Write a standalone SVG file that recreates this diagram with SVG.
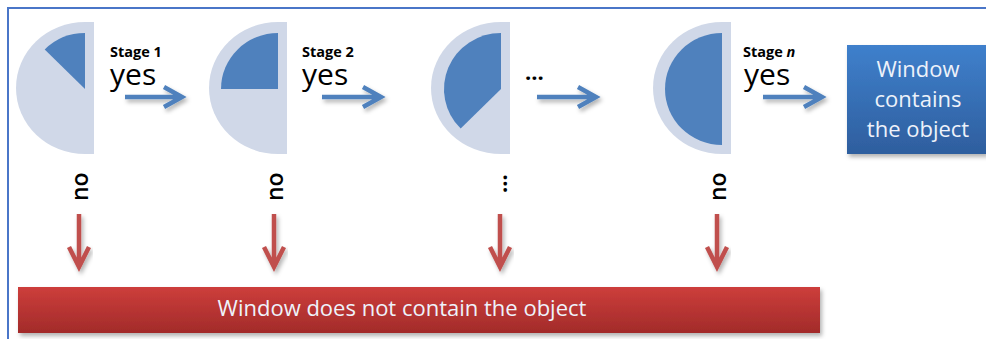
<svg xmlns="http://www.w3.org/2000/svg" width="986" height="339" viewBox="0 0 986 339">
<defs>
<filter id="sh" x="-20%" y="-40%" width="140%" height="180%"><feDropShadow dx="2" dy="3" stdDeviation="2" flood-color="#000" flood-opacity="0.3"/></filter>
<linearGradient id="gb" x1="0" y1="0" x2="0" y2="1"><stop offset="0" stop-color="#3F80CC"/><stop offset="1" stop-color="#2E5E9E"/></linearGradient>
<linearGradient id="gr" x1="0" y1="0" x2="0" y2="1"><stop offset="0" stop-color="#CD3E3B"/><stop offset="1" stop-color="#A22B2A"/></linearGradient>
<style>
.outer{fill:#D0D8E8}
.inner{fill:#4F81BD}
.stg{font-family:"Open Sans","Liberation Sans",sans-serif;font-weight:bold;font-size:14.5px;fill:#000}
.yes{font-family:"Open Sans","Liberation Sans",sans-serif;font-size:30px;fill:#000}
.no{font-family:"Open Sans","Liberation Sans",sans-serif;font-weight:600;font-size:23px;fill:#000}
.dots{font-family:"Open Sans","Liberation Sans",sans-serif;font-weight:bold;font-size:22px;fill:#000}
.wt{font-family:"Open Sans","Liberation Sans",sans-serif;fill:#EEF2FA;text-anchor:middle}
.ba{fill:none;stroke:#4F81BD;stroke-width:4.5;filter:url(#sh)}
.ra{fill:none;stroke:#C0504D;stroke-width:4.5;filter:url(#sh)}
</style>
</defs>
<g id="frame" fill="none" stroke="#4A76C8" stroke-width="2">
<path d="M8,339 V8 H986"/>
</g>
<g id="stage1">
<path class="outer" d="M94,22 H85 A69,66 0 0 0 85,154 H94 Z"/>
<path class="inner" d="M85,89 V33 A57,56 0 0 0 44.7,49.4 Z"/>
</g>
<g id="stage2">
<path class="outer" d="M287,22 H278 A69,66 0 0 0 278,154 H287 Z"/>
<path class="inner" d="M278,89 V33 A57,56 0 0 0 221,89 Z"/>
</g>
<g id="stage3">
<path class="outer" d="M510,22 H501 A70,66 0 0 0 501,154 H510 Z"/>
<path class="inner" d="M501,89 V33 A57,56 0 0 0 460.7,128.6 Z"/>
</g>
<g id="stageN">
<path class="outer" d="M731,22 H722 A69,66 0 0 0 722,154 H731 Z"/>
<path class="inner" d="M722,89 V33 A57,56 0 0 0 722,145 Z"/>
</g>
<g id="accept">
<rect x="847" y="45" width="140" height="109" fill="url(#gb)" filter="url(#sh)"/>
<text class="wt" font-size="22" x="918" y="77">Window</text>
<text class="wt" font-size="22" x="918" y="107">contains</text>
<text class="wt" font-size="22" x="918" y="137">the object</text>
</g>
<g id="reject">
<rect x="18" y="287" width="802" height="46" fill="url(#gr)" filter="url(#sh)"/>
<text class="wt" font-size="22" x="402" y="316">Window does not contain the object</text>
</g>
<g id="connectors">
<path class="ba" d="M125,97 H181 M164,87 L182,97 L164,107"/>
<path class="ba" d="M322,97 H380 M363,87 L381,97 L363,107"/>
<path class="ba" d="M537,97 H595 M578,87 L596,97 L578,107"/>
<path class="ba" d="M763,97 H821 M804,87 L822,97 L804,107"/>
<path class="ra" d="M79,214 V266 M69,247 L79,267 L89,247"/>
<path class="ra" d="M274,214 V266 M264,247 L274,267 L284,247"/>
<path class="ra" d="M500,214 V266 M490,247 L500,267 L510,247"/>
<path class="ra" d="M717,214 V266 M707,247 L717,267 L727,247"/>
<text class="stg" x="110" y="57">Stage 1</text>
<text class="yes" x="110" y="85">yes</text>
<text class="stg" x="302" y="57">Stage 2</text>
<text class="yes" x="302" y="85">yes</text>
<text class="dots" x="525" y="80">...</text>
<text class="stg" x="743" y="57">Stage <tspan font-style="italic">n</tspan></text>
<text class="yes" x="744" y="85">yes</text>
<text class="no" transform="translate(88,201) rotate(-90)">no</text>
<text class="no" transform="translate(283,201) rotate(-90)">no</text>
<text class="dots" transform="translate(507,193) rotate(-90)">...</text>
<text class="no" transform="translate(726,201) rotate(-90)">no</text>
</g>
</svg>
